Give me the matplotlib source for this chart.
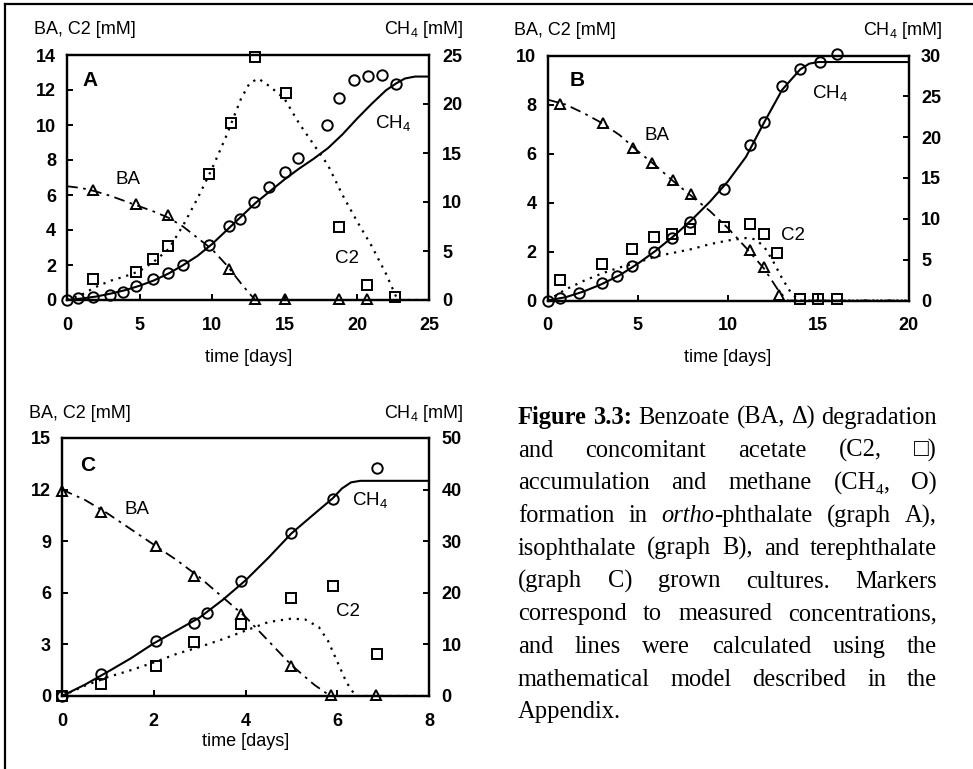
import matplotlib
matplotlib.use("Agg")
import matplotlib.pyplot as plt
from matplotlib.lines import Line2D

# ---------------- data ----------------
# Panel A (ortho-phthalate)
A_t_ch4 = [0, 0.73, 1.76, 2.95, 3.86, 4.73, 5.9, 6.94, 7.97, 9.8, 11.16, 11.9, 12.9, 13.9, 15.0, 15.96, 17.9, 18.77, 19.8, 20.75, 21.7, 22.7]
A_ch4 = [0, 0.2, 0.3, 0.5, 0.85, 1.43, 2.14, 2.8, 3.6, 5.6, 7.55, 8.3, 10.0, 11.5, 13.1, 14.5, 17.9, 20.6, 22.4, 22.9, 23.0, 22.0]
A_t_c2 = [1.76, 4.73, 5.9, 6.94, 9.8, 11.28, 12.95, 15.1, 18.77, 20.7, 22.6]
A_c2 = [1.18, 1.62, 2.33, 3.1, 7.2, 10.13, 13.87, 11.85, 4.2, 0.86, 0.2]
A_t_ba = [1.76, 4.73, 6.94, 11.16, 12.99, 15.0, 18.75, 20.7]
A_ba = [6.29, 5.49, 4.86, 1.77, 0.05, 0.05, 0.05, 0.05]
A_mt_ch4 = [0, 1, 2, 3, 4, 5, 6, 7, 8, 9, 10, 11, 12, 13, 14, 15, 16, 17, 18, 19, 20, 21, 22, 22.7, 23.3, 24, 25]
A_m_ch4 = [0, 0.15, 0.35, 0.65, 1.0, 1.45, 2.0, 2.7, 3.55, 4.5, 5.7, 7.1, 8.5, 9.9, 11.1, 12.3, 13.4, 14.4, 15.5, 16.9, 18.5, 20.0, 21.4, 22.1, 22.6, 22.8, 22.8]
A_mt_c2 = [0, 1, 2, 3, 4, 5, 6, 7, 8, 9, 10, 11, 12, 12.6, 13.2, 14, 15, 16, 17, 18, 19, 20, 21, 22, 22.8, 25]
A_m_c2 = [0, 0.3, 0.75, 1.1, 1.35, 1.65, 2.2, 2.9, 4.25, 5.8, 7.5, 9.4, 11.5, 12.4, 12.65, 12.2, 11.5, 10.1, 8.9, 7.7, 6.0, 4.5, 3.1, 1.5, 0, 0]
A_mt_ba = [0, 1, 2, 3, 4, 5, 6, 7, 8, 9, 10, 11, 12, 12.6, 13, 25]
A_m_ba = [6.5, 6.4, 6.2, 5.95, 5.65, 5.35, 5.05, 4.7, 4.2, 3.55, 2.9, 2.0, 0.95, 0.35, 0, 0]

# Panel B (isophthalate)
B_t_ch4 = [0, 0.72, 1.73, 3.0, 3.87, 4.7, 5.89, 6.9, 7.92, 9.8, 11.2, 11.99, 12.98, 14.0, 15.1, 16.05]
B_ch4 = [0, 0.27, 0.96, 2.18, 3.0, 4.2, 5.9, 7.6, 9.65, 13.7, 19.0, 21.8, 26.3, 28.3, 29.2, 30.2]
B_t_c2 = [0.72, 3.0, 4.7, 5.89, 6.9, 7.92, 9.8, 11.2, 12.0, 12.7, 14.0, 15.0, 16.05]
B_c2 = [0.84, 1.49, 2.09, 2.58, 2.7, 2.9, 2.99, 3.11, 2.71, 1.93, 0.05, 0.05, 0.05]
B_t_ba = [0.72, 3.06, 4.72, 5.81, 6.94, 7.95, 11.2, 12.0, 12.8]
B_ba = [8.02, 7.23, 6.24, 5.6, 4.92, 4.33, 2.06, 1.35, 0.22]
B_mt_ch4 = [0, 1, 2, 3, 4, 5, 6, 7, 8, 9, 10, 11, 12, 13, 14, 14.5, 15, 20]
B_m_ch4 = [0, 0.4, 1.1, 2.0, 3.1, 4.5, 6.1, 7.9, 9.9, 12.1, 14.6, 17.6, 21.8, 25.8, 28.3, 29.0, 29.2, 29.2]
B_mt_c2 = [0, 1, 2, 3, 4, 5, 6, 7, 8, 9, 10, 11, 11.5, 12, 12.5, 13, 13.5, 14, 20]
B_m_c2 = [0, 0.45, 0.8, 1.1, 1.35, 1.55, 1.8, 1.95, 2.1, 2.3, 2.45, 2.55, 2.5, 2.2, 1.6, 0.9, 0.3, 0, 0]
B_mt_ba = [0, 1, 2, 3, 4, 5, 6, 7, 8, 9, 10, 11, 12, 12.8, 13.3, 20]
B_m_ba = [8.2, 8.0, 7.65, 7.25, 6.75, 6.1, 5.5, 4.85, 4.25, 3.65, 2.95, 2.15, 1.3, 0.4, 0, 0]

# Panel C (terephthalate)
C_t_ch4 = [0, 0.86, 2.05, 2.88, 3.15, 3.91, 5.0, 5.9, 6.86]
C_ch4 = [0, 4.26, 10.7, 14.1, 16.0, 22.3, 31.5, 38.2, 44.1]
C_t_c2 = [0, 0.86, 2.05, 2.88, 3.91, 5.0, 5.9, 6.86]
C_c2 = [0, 0.7, 1.74, 3.16, 4.19, 5.68, 6.41, 2.42]
C_t_ba = [0, 0.86, 2.05, 2.88, 3.91, 5.0, 5.86, 6.84]
C_ba = [11.92, 10.7, 8.72, 6.98, 4.75, 1.76, 0.05, 0.05]
C_mt_ch4 = [0, 0.5, 1, 1.5, 2, 2.5, 3, 3.5, 4, 4.5, 5, 5.5, 5.9, 6.1, 6.3, 6.5, 8]
C_m_ch4 = [0, 2.2, 4.7, 7.3, 10.2, 12.7, 15.2, 18.6, 22.4, 26.8, 31.5, 35.3, 38.3, 40.2, 41.4, 41.7, 41.7]
C_mt_c2 = [0, 0.5, 1, 1.5, 2, 2.5, 3, 3.5, 4, 4.5, 5, 5.3, 5.6, 5.8, 6.0, 6.2, 6.4, 8]
C_m_c2 = [0, 0.6, 1.1, 1.5, 1.95, 2.45, 2.85, 3.3, 3.8, 4.3, 4.5, 4.45, 4.0, 3.2, 2.0, 0.8, 0, 0]
C_mt_ba = [0, 0.5, 1, 1.5, 2, 2.5, 3, 3.5, 4, 4.5, 5, 5.5, 5.85, 8]
C_m_ba = [12.0, 11.4, 10.6, 9.7, 8.8, 7.9, 6.9, 5.75, 4.6, 3.2, 1.8, 0.65, 0, 0]

# axes settings
A_xticks = [0, 5, 10, 15, 20, 25]
A_yticks = [0, 2, 4, 6, 8, 10, 12, 14]
A_y2ticks = [0, 5, 10, 15, 20, 25]
B_xticks = [0, 5, 10, 15, 20]
B_yticks = [0, 2, 4, 6, 8, 10]
B_y2ticks = [0, 5, 10, 15, 20, 25, 30]
C_xticks = [0, 2, 4, 6, 8]
C_yticks = [0, 3, 6, 9, 12, 15]
C_y2ticks = [0, 10, 20, 30, 40, 50]

W, H = 973, 769
fig = plt.figure(figsize=(W / 100, H / 100), dpi=100)
fig.patch.set_facecolor("white")
SANS = "Liberation Sans"
SERIF = ["Liberation Serif", "DejaVu Sans"]
CH4 = r"$\mathregular{CH_4}$"
AFS = 13  # axis text size


def px2fig(x, y):
    return x / W, 1 - y / H


def rect(l, t, r, b):
    return [l / W, 1 - b / H, (r - l) / W, (b - t) / H]


def make_panel(pos, xt, yt, y2t, data, letter, labels, xlabel_y):
    (t_ch4, ch4, t_c2, c2, t_ba, ba, mt_ch4, m_ch4, mt_c2, m_c2, mt_ba, m_ba) = data
    ax = fig.add_axes(rect(*pos))
    ax2 = ax.twinx()
    ax.set_xlim(xt[0], xt[-1])
    ax.set_ylim(yt[0], yt[-1])
    ax2.set_ylim(y2t[0], y2t[-1])
    ax.set_xticks(xt)
    ax.set_yticks(yt)
    ax2.set_yticks(y2t)
    for a in (ax, ax2):
        for s in a.spines.values():
            s.set_linewidth(1.6)
        a.tick_params(direction="in", length=4, width=1.4)
    ax.tick_params(axis="y", pad=8, labelsize=AFS)
    ax.tick_params(axis="x", pad=12, labelsize=AFS)
    ax2.tick_params(axis="y", pad=9, labelsize=AFS)
    for lab in ax.get_xticklabels() + ax.get_yticklabels() + ax2.get_yticklabels():
        lab.set_fontfamily(SANS)
        lab.set_fontweight("bold")
    mk = dict(mfc="none", mec="black", mew=1.4, ls="none", ms=7.5, clip_on=False, zorder=5)
    # model lines
    ax.plot(mt_ba, m_ba, color="black", lw=1.3, ls=(0, (6, 3, 1.5, 3)), zorder=3)
    ax.plot(mt_c2, m_c2, color="black", lw=1.6, ls=(0, (1, 2.6)), zorder=3)
    ax2.plot(mt_ch4, m_ch4, color="black", lw=1.5, ls="-", zorder=3)
    # markers
    ax.plot(t_ba, ba, marker="^", **mk)
    ax.plot(t_c2, c2, marker="s", **mk)
    ax2.plot(t_ch4, ch4, marker="o", **mk)
    ax.set_zorder(ax2.get_zorder() + 1)
    ax.patch.set_visible(False)
    # texts
    l, t, r, b = pos
    fig.text(*px2fig(l - 33, t - 25), "BA, C2 [mM]", family=SANS, fontsize=AFS,
             ha="left", va="center")
    fig.text(*px2fig(r + 34, t - 25), CH4 + " [mM]",
             family=SANS, fontsize=AFS, ha="right", va="center")
    fig.text(*px2fig((l + r) / 2, xlabel_y), "time [days]", family=SANS, fontsize=AFS,
             ha="center", va="center")
    fig.text(*px2fig(*letter[1]), letter[0], family=SANS, fontsize=15, fontweight="bold",
             ha="center", va="center")
    for txt, (x, y) in labels:
        fig.text(*px2fig(x, y), txt, family=SANS, fontsize=13.5, ha="center", va="center")
    return ax, ax2


make_panel((67, 55, 429.5, 300), A_xticks, A_yticks, A_y2ticks,
           (A_t_ch4, A_ch4, A_t_c2, A_c2, A_t_ba, A_ba, A_mt_ch4, A_m_ch4, A_mt_c2, A_m_c2, A_mt_ba, A_m_ba),
           ("A", (90, 80)), [("BA", (128, 180)), (CH4, (393, 123)), ("C2", (347, 258))], 358)
make_panel((547.5, 55.5, 908.5, 300.5), B_xticks, B_yticks, B_y2ticks,
           (B_t_ch4, B_ch4, B_t_c2, B_c2, B_t_ba, B_ba, B_mt_ch4, B_m_ch4, B_mt_c2, B_m_c2, B_mt_ba, B_m_ba),
           ("B", (577, 80)), [("BA", (657, 135)), (CH4, (830, 93)), ("C2", (793, 235))], 358)
make_panel((62, 438, 429, 696), C_xticks, C_yticks, C_y2ticks,
           (C_t_ch4, C_ch4, C_t_c2, C_c2, C_t_ba, C_ba, C_mt_ch4, C_m_ch4, C_mt_c2, C_m_c2, C_mt_ba, C_m_ba),
           ("C", (88, 465)), [("BA", (137, 510)), (CH4, (370, 500)), ("C2", (348, 612))], 741)

# figure frame (top and left)
fig.add_artist(Line2D([5 / W, 5 / W], [0, 1 - 4 / H], transform=fig.transFigure, color="black", lw=1.6))
fig.add_artist(Line2D([5 / W, 1], [1 - 4 / H, 1 - 4 / H], transform=fig.transFigure, color="black", lw=1.6))

# ---------------- caption (justified) ----------------
N, B_, I_ = "normal", "bold", "italic"
caption = [
    [[("Figure", B_)], [("3.3:", B_)], [("Benzoate", N)], [("(BA,", N)], [("\u0394)", N)], [("degradation", N)]],
    [[("and", N)], [("concomitant", N)], [("acetate", N)], [("(C2,", N)], [("\u25a1)", N)]],
    [[("accumulation", N)], [("and", N)], [("methane", N)], [("(CH", N), ("4", "sub"), (",", N)], [("O)", N)]],
    [[("formation", N)], [("in", N)], [("ortho", I_), ("-phthalate", N)], [("(graph", N)], [("A),", N)]],
    [[("isophthalate", N)], [("(graph", N)], [("B),", N)], [("and", N)], [("terephthalate", N)]],
    [[("(graph", N)], [("C)", N)], [("grown", N)], [("cultures.", N)], [("Markers", N)]],
    [[("correspond", N)], [("to", N)], [("measured", N)], [("concentrations,", N)]],
    [[("and", N)], [("lines", N)], [("were", N)], [("calculated", N)], [("using", N)], [("the", N)]],
    [[("mathematical", N)], [("model", N)], [("described", N)], [("in", N)], [("the", N)]],
    [[("Appendix.", N)]],
]
cap_left, cap_right = 518, 937
cap_y0, cap_dy = 424, 32.7

fig.canvas.draw()
renderer = fig.canvas.get_renderer()


def seg_props(style, fs):
    if style == "bold":
        return dict(fontweight="bold", fontsize=fs)
    if style == "italic":
        return dict(fontstyle="italic", fontsize=fs)
    if style == "sub":
        return dict(fontsize=fs * 0.62)
    return dict(fontsize=fs)


def measure_line(words, fs, y):
    objs, widths = [], []
    for w in words:
        segs, wsum = [], 0
        for txt, st in w:
            dy = 0.25 * fs if st == "sub" else 0
            tobj = fig.text(0, 1 - (y + dy) / H, txt, family=SERIF, ha="left", va="baseline",
                            **seg_props(st, fs))
            ext = tobj.get_window_extent(renderer)
            segs.append((tobj, wsum))
            wsum += ext.width
        objs.append(segs)
        widths.append(wsum)
    return objs, widths


# fit font size so that the first (naturally spaced) line fills the column
probe_fs = 16
objs, widths = measure_line(caption[0], probe_fs, 0)
space_w = 0.25 * probe_fs * 100 / 72
natural = sum(widths) + space_w * (len(widths) - 1)
for segs in objs:
    for tobj, _ in segs:
        tobj.remove()
FS = probe_fs * (cap_right - cap_left) / natural

for li, words in enumerate(caption):
    y = cap_y0 + li * cap_dy
    objs, widths = measure_line(words, FS, y)
    total = sum(widths)
    last = li == len(caption) - 1
    if len(words) > 1 and not last:
        gap = (cap_right - cap_left - total) / (len(words) - 1)
    else:
        gap = 0.25 * FS * 100 / 72
    x = cap_left
    for segs, wd in zip(objs, widths):
        for tobj, off in segs:
            pos = tobj.get_position()
            tobj.set_position(((x + off) / W, pos[1]))
        x += wd + gap

fig.savefig("out.png", dpi=100, facecolor="white")
